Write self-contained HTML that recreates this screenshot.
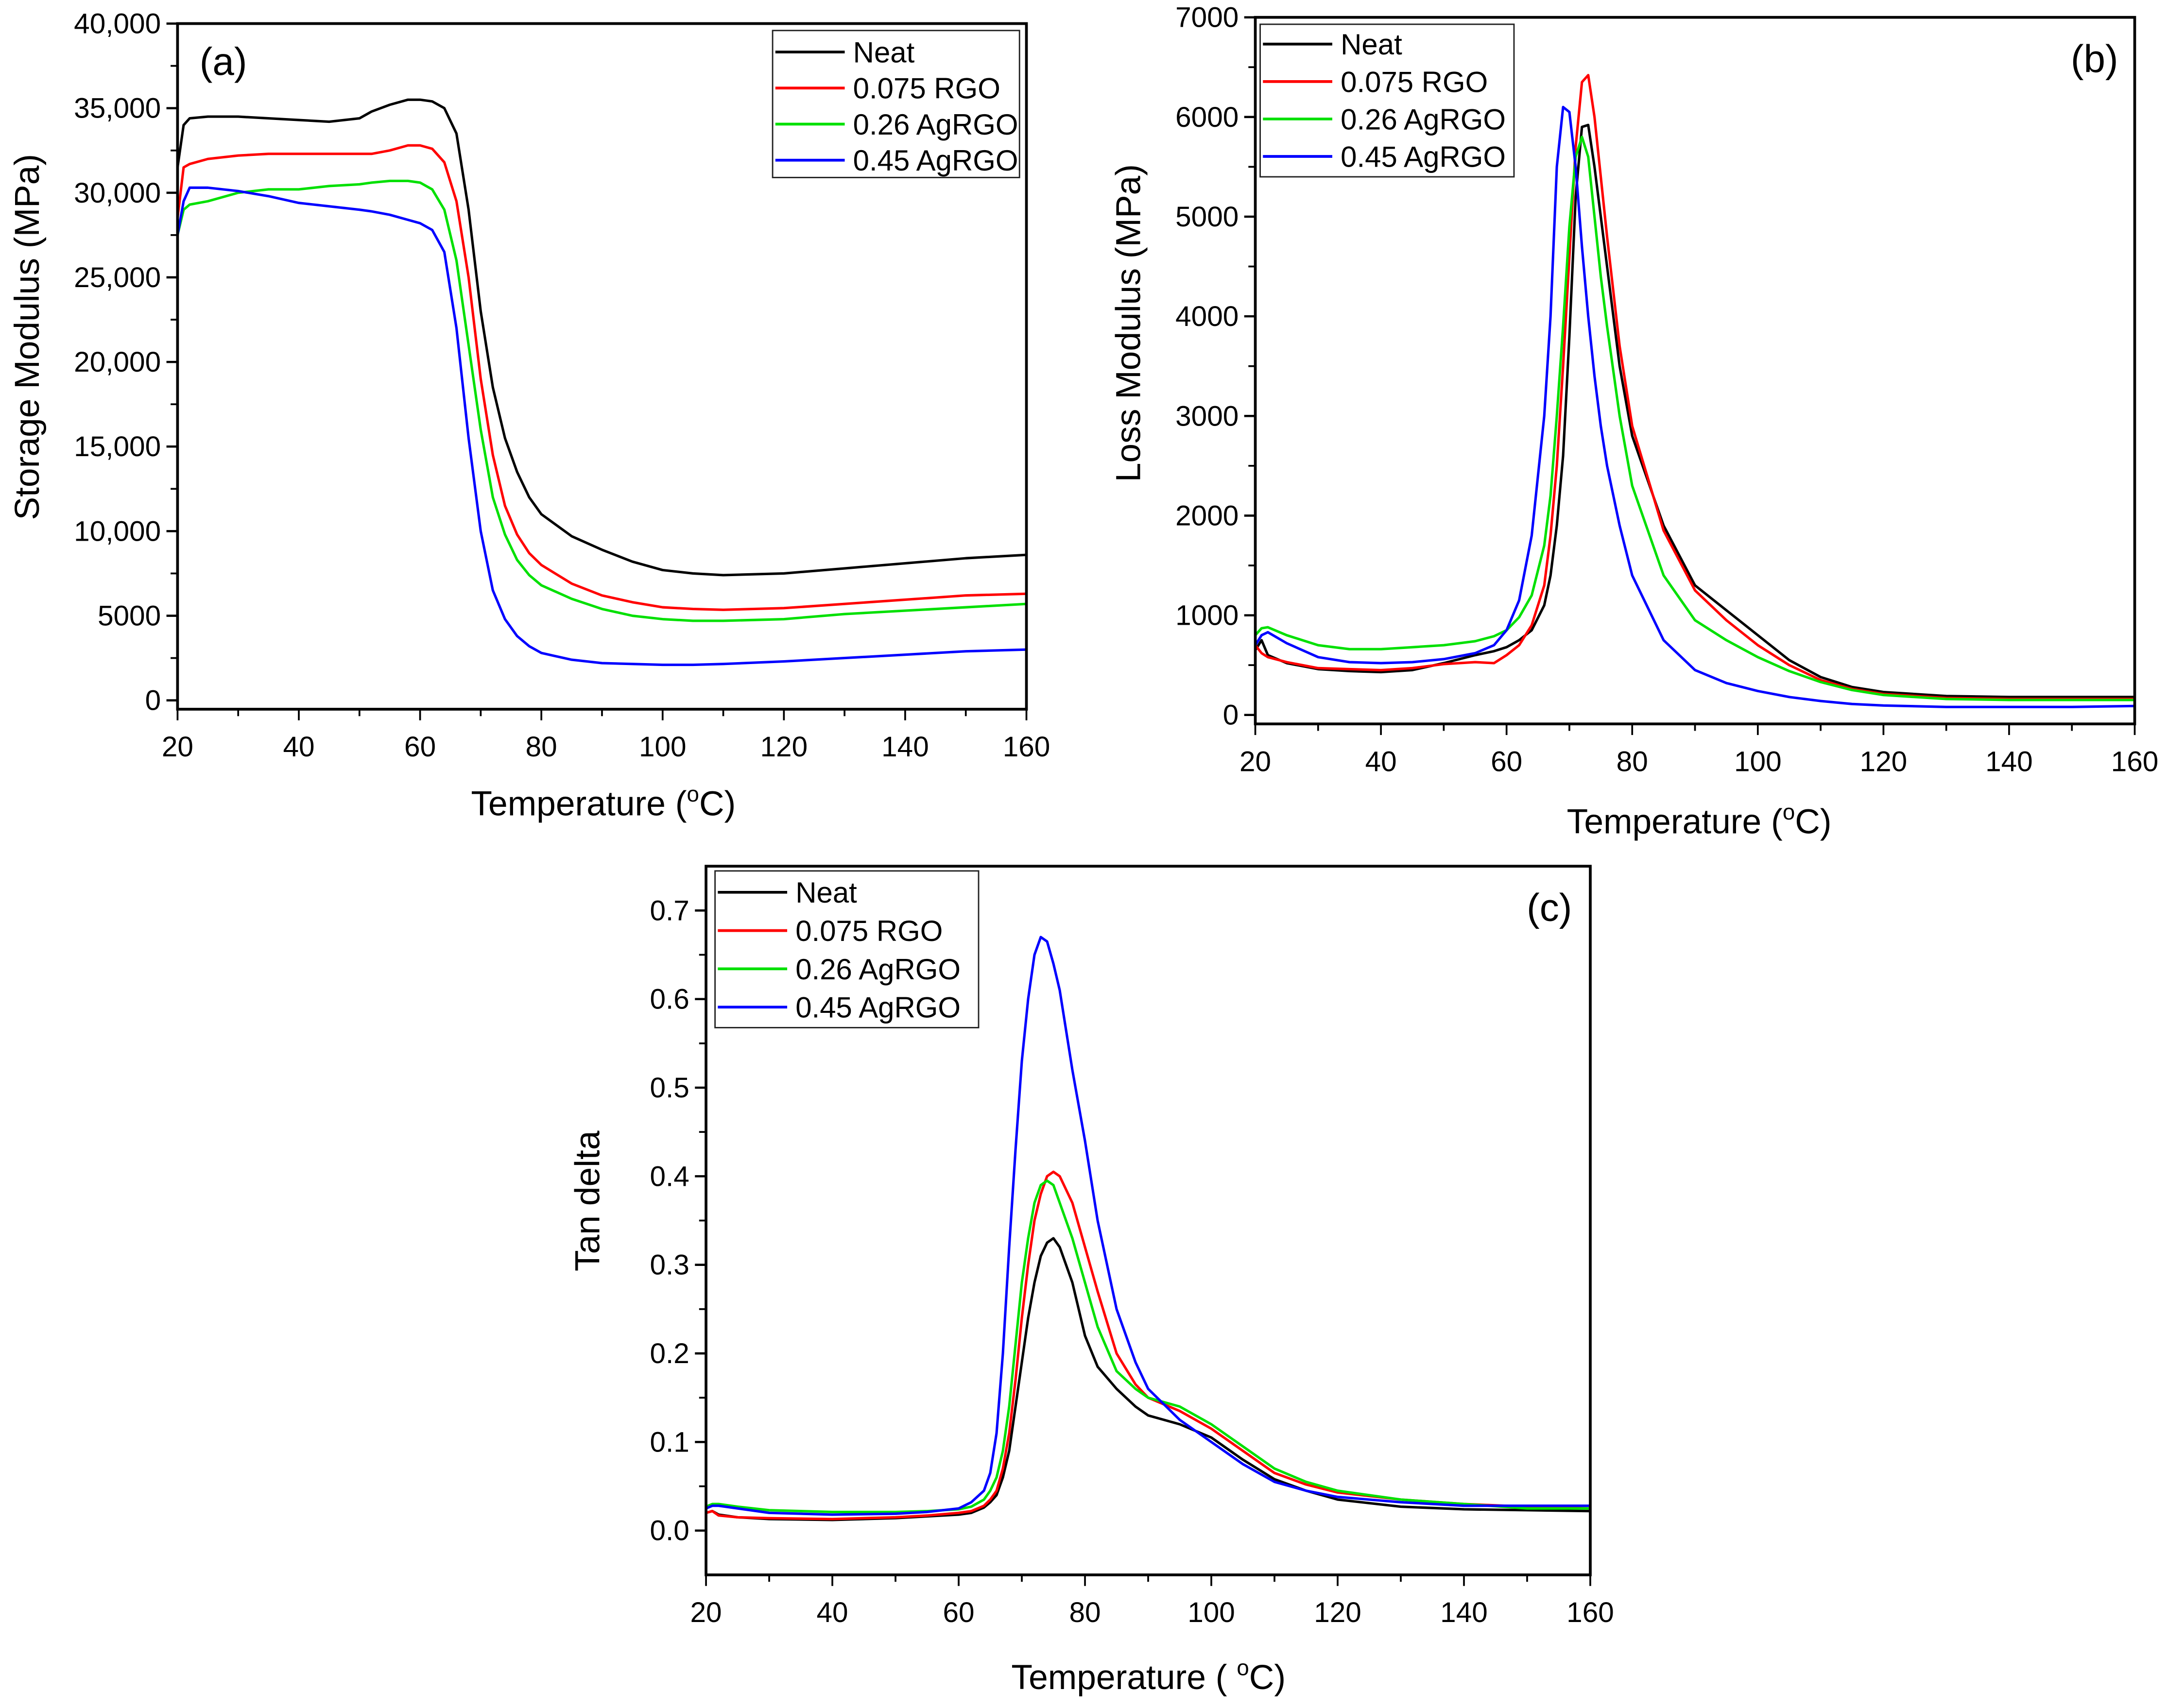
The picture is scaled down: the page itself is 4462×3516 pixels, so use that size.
<!DOCTYPE html>
<html><head><meta charset="utf-8"><style>
html,body{margin:0;padding:0;background:#fff}
svg{display:block}
text{font-family:"Liberation Sans",Arial,sans-serif;fill:#000}
</style></head><body>
<svg id="fig" xmlns="http://www.w3.org/2000/svg" width="4462" height="3516" viewBox="0 0 1563 1231.6" preserveAspectRatio="none"></svg>
<script>
const seriesNames = ["Neat","0.075 RGO","0.26 AgRGO","0.45 AgRGO"];
const seriesColors = ["#000000","#ff0000","#00e000","#0000ff"];

const tempA = [20,21,22,25,30,35,40,45,50,52,55,58,60,62,64,66,68,70,72,74,76,78,80,85,90,95,100,105,110,120,130,140,150,160];
const storNeat = [31500,34000,34400,34500,34500,34400,34300,34200,34400,34800,35200,35500,35500,35400,35000,33500,29000,23000,18500,15500,13500,12000,11000,9700,8900,8200,7700,7500,7400,7500,7800,8100,8400,8600];
const storRGO = [28500,31500,31700,32000,32200,32300,32300,32300,32300,32300,32500,32800,32800,32600,31800,29500,25000,19000,14500,11500,9800,8700,8000,6900,6200,5800,5500,5400,5350,5450,5700,5950,6200,6300];
const storAg26 = [27500,29000,29300,29500,30000,30200,30200,30400,30500,30600,30700,30700,30600,30200,29000,26000,21000,16000,12000,9800,8300,7400,6800,6000,5400,5000,4800,4700,4700,4800,5100,5300,5500,5700];
const storAg45 = [27500,29500,30300,30300,30100,29800,29400,29200,29000,28900,28700,28400,28200,27800,26500,22000,15500,10000,6500,4800,3800,3200,2800,2400,2200,2150,2100,2100,2150,2300,2500,2700,2900,3000];

const tempB = [20,21,22,25,30,35,40,45,50,55,58,60,62,64,66,67,68,69,70,71,72,73,74,75,76,78,80,85,90,95,100,105,110,115,120,130,140,150,160];
const lossNeat = [650,750,600,520,460,440,430,450,520,600,640,680,750,850,1100,1400,1900,2600,3800,5200,5900,5920,5500,5000,4500,3500,2800,1900,1300,1050,800,550,380,280,230,190,180,180,180];
const lossRGO = [700,620,580,530,470,460,450,470,510,530,520,600,700,900,1300,1800,2500,3500,4600,5700,6350,6420,6000,5400,4800,3700,2900,1850,1250,950,700,500,350,260,210,170,160,160,160];
const lossAg26 = [800,870,880,800,700,660,660,680,700,740,790,850,980,1200,1700,2200,3000,3900,4900,5600,5800,5600,5000,4400,3900,3000,2300,1400,950,750,580,440,330,250,200,160,150,150,150];
const lossAg45 = [700,800,830,720,580,530,520,530,560,620,700,850,1150,1800,3000,4000,5500,6100,6050,5500,4700,4000,3400,2900,2500,1900,1400,750,450,320,240,180,140,110,95,80,80,80,90];

const tempC = [20,21,22,25,30,40,50,55,60,62,64,65,66,67,68,69,70,71,72,73,74,75,76,78,80,82,85,88,90,95,100,105,110,115,120,130,140,150,160];
const tanNeat = [.02,.022,.018,.015,.013,.012,.014,.016,.018,.020,.026,.032,.04,.06,.09,.14,.19,.24,.28,.31,.325,.33,.32,.28,.22,.185,.16,.14,.13,.12,.105,.08,.058,.045,.035,.027,.024,.023,.022];
const tanRGO = [.02,.022,.017,.015,.014,.013,.015,.017,.020,.022,.028,.035,.045,.07,.11,.17,.24,.30,.35,.38,.40,.405,.40,.37,.32,.27,.20,.165,.15,.135,.115,.09,.065,.052,.043,.035,.03,.027,.025];
const tanAg26 = [.027,.030,.030,.027,.023,.021,.021,.022,.024,.027,.035,.045,.06,.09,.14,.21,.28,.33,.37,.39,.395,.39,.37,.33,.28,.23,.18,.16,.15,.14,.12,.095,.07,.055,.045,.035,.03,.025,.025];
const tanAg45 = [.025,.028,.028,.025,.020,.018,.019,.021,.025,.032,.045,.065,.11,.2,.32,.43,.53,.60,.65,.67,.665,.64,.61,.52,.44,.35,.25,.19,.16,.125,.10,.075,.055,.045,.038,.032,.028,.028,.028];

const xTicks = [20,40,60,80,100,120,140,160];
const yTicksA = [0,5000,10000,15000,20000,25000,30000,35000,40000];
const yLabelsA = ["0","5000","10,000","15,000","20,000","25,000","30,000","35,000","40,000"];
const yTicksB = [0,1000,2000,3000,4000,5000,6000,7000];
const yTicksC = [0,0.1,0.2,0.3,0.4,0.5,0.6,0.7];
const yLabelsC = ["0.0","0.1","0.2","0.3","0.4","0.5","0.6","0.7"];

const NS="http://www.w3.org/2000/svg";
const svg=document.getElementById('fig');
function mk(tag,attrs,parent){const e=document.createElementNS(NS,tag);for(const k in attrs)e.setAttribute(k,attrs[k]);(parent||svg).appendChild(e);return e;}

function panel(cfg){
  const g=mk('g',{});
  
  
  const sx=v=>cfg.x0+(v-cfg.xmin)/(cfg.xmax-cfg.xmin)*(cfg.x1-cfg.x0);
  const sy=v=>cfg.yb-(v-cfg.ymin)/(cfg.ymax-cfg.ymin)*(cfg.yb-cfg.yt);
  cfg.series.forEach((vals,i)=>{
    const d=vals.map((v,j)=>(j?'L':'M')+sx(cfg.temps[j]).toFixed(2)+' '+sy(v).toFixed(2)).join(' ');
    const p=mk('path',{d:d,fill:'none',stroke:seriesColors[i],'stroke-width':1.8,'stroke-linejoin':'round'},g);
    
    
  });
  const fr=mk('rect',{x:cfg.x0,y:cfg.yt,width:cfg.x1-cfg.x0,height:cfg.yb-cfg.yt,fill:'none',stroke:'#000','stroke-width':2},g);
  
  
  for(let t=cfg.xmin;t<=cfg.xmax;t+=10){
    const maj=(t%20===0);
    mk('line',{x1:sx(t),x2:sx(t),y1:cfg.yb,y2:cfg.yb+(maj?8:5),stroke:'#000','stroke-width':1.3},g);
  }
  xTicks.forEach(t=>{
    const tx=mk('text',{x:sx(t),y:cfg.yb+34,'font-size':20.5,'text-anchor':'middle'},g);
    tx.textContent=t;
    
    
  });
  cfg.yticks.forEach((t,i)=>{
    mk('line',{x1:cfg.x0-8,x2:cfg.x0,y1:sy(t),y2:sy(t),stroke:'#000','stroke-width':1.6},g);
    if(i<cfg.yticks.length-1){const m=(t+cfg.yticks[i+1])/2;mk('line',{x1:cfg.x0-5,x2:cfg.x0,y1:sy(m),y2:sy(m),stroke:'#000','stroke-width':1.3},g);}
    const tx=mk('text',{x:cfg.x0-12,y:sy(t)+7,'font-size':20.5,'text-anchor':'end'},g);
    tx.textContent=cfg.ylabels[i];
    
    
  });
  const xt=mk('text',{x:cfg.xtx,y:cfg.xty,'font-size':25,'text-anchor':'middle'},g);
  xt.innerHTML=cfg.xtitle;
  
  
  const yt=mk('text',{x:0,y:0,'font-size':25,'text-anchor':'middle',transform:`translate(${cfg.ytx},${cfg.yty}) rotate(-90)`},g);
  yt.textContent=cfg.ytitle;
  
  
  const pl=mk('text',{x:cfg.plx,y:cfg.ply,'font-size':28,'text-anchor':'middle'},g);
  pl.textContent=cfg.plabel;
  
  
  const L=cfg.leg;
  const lg=mk('g',{},g);
  
  
  mk('rect',{x:L.x,y:L.y,width:L.w,height:L.h,fill:'#fff',stroke:'#222','stroke-width':1},lg);
  seriesNames.forEach((n,i)=>{
    const yy=L.r0+i*L.dr;
    const e=mk('g',{},lg);
    
    
    mk('line',{x1:L.x+2,x2:L.x+52,y1:yy,y2:yy,stroke:seriesColors[i],'stroke-width':2},e);
    const t=mk('text',{x:L.x+58,y:yy+7.5,'font-size':21},e);
    t.textContent=n;
  });
}
const supC='Temperature (<tspan font-size="16" dy="-10">o</tspan><tspan dy="10">C)</tspan>';
panel({name:'panel-a-storage-modulus',x0:128,x1:740,xmin:20,xmax:160,yt:17,yb:511.4,ymin:-525,ymax:40000,
  temps:tempA,series:[storNeat,storRGO,storAg26,storAg45],yticks:yTicksA,ylabels:yLabelsA,
  xtitle:supC,xtx:435,xty:588,ytitle:'Storage Modulus (MPa)',ytx:28,yty:243,plabel:'(a)',plx:161,ply:54,
  leg:{x:557,y:22,w:178,h:106,r0:37.5,dr:26}});
panel({name:'panel-b-loss-modulus',x0:905,x1:1539,xmin:20,xmax:160,yt:12.5,yb:522,ymin:-90,ymax:7000,
  temps:tempB,series:[lossNeat,lossRGO,lossAg26,lossAg45],yticks:yTicksB,ylabels:yTicksB.map(String),
  xtitle:supC,xtx:1225,xty:601,ytitle:'Loss Modulus (MPa)',ytx:822,yty:233,plabel:'(b)',plx:1510,ply:52,
  leg:{x:908.5,y:17.5,w:183,h:110,r0:31.8,dr:27}});
panel({name:'panel-c-tan-delta',x0:509,x1:1146.5,xmin:20,xmax:160,yt:624.6,yb:1135.6,ymin:-0.05,ymax:0.75,
  temps:tempC,series:[tanNeat,tanRGO,tanAg26,tanAg45],yticks:yTicksC,ylabels:yLabelsC,
  xtitle:'Temperature ( <tspan font-size="16" dy="-10">o</tspan><tspan dy="10">C)</tspan>',xtx:828,xty:1218,ytitle:'Tan delta',ytx:432,yty:866,plabel:'(c)',plx:1117,ply:664,
  leg:{x:515.5,y:628,w:190,h:113,r0:643.4,dr:27.6}});
</script>
</body></html>
